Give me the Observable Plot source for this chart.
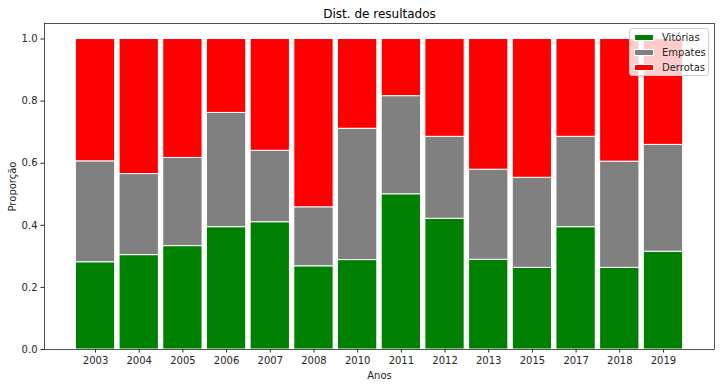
<!DOCTYPE html>
<html>
<head>
<meta charset="utf-8">
<script src="https://cdn.jsdelivr.net/npm/d3@7"></script>
<script src="https://cdn.jsdelivr.net/npm/@observablehq/plot@0.6"></script>
<style>
  html, body { margin: 0; padding: 0; background: #fff; }
  #wrap { position: relative; width: 720px; height: 387px; font-family: "DejaVu Sans", sans-serif; }
  #legend { position: absolute; left: 629px; top: 28px; width: 80px; height: 48px;
    background: rgba(255,255,255,0.8); border: 1px solid #cccccc; border-radius: 3px;
    font-size: 10px; color: #262626; box-sizing: border-box; padding-top: 1px; }
  .row { display: flex; align-items: center; height: 15px; }
  .sw { width: 20px; height: 7px; margin-left: 4px; margin-right: 8px; box-sizing: border-box; border: 1px solid #fff; }
</style>
</head>
<body>
<div id="wrap"><div id="legend"></div></div>
<script>
const anos = ["2003","2004","2005","2006","2007","2008","2010","2011","2012","2013","2015","2017","2018","2019"];
const vitorias = [0.281,0.304,0.333,0.394,0.410,0.268,0.288,0.500,0.421,0.289,0.263,0.394,0.263,0.315];
const empates  = [0.325,0.261,0.284,0.368,0.230,0.190,0.423,0.316,0.264,0.290,0.290,0.291,0.342,0.344];
const derrotas = [0.394,0.435,0.383,0.238,0.360,0.542,0.289,0.184,0.315,0.421,0.447,0.315,0.395,0.341];
const series = ["Vitórias","Empates","Derrotas"];
const cores = ["#008000","#808080","#ff0000"];
const yTicks = [0,0.2,0.4,0.6,0.8,1.0];

const valores = [vitorias, empates, derrotas];
const data = [];
anos.forEach((a, i) => series.forEach((s, j) => data.push({ano: a, serie: s, valor: valores[j][i]})));

const chart = Plot.plot({
  width: 720, height: 387,
  marginLeft: 44, marginRight: 6, marginTop: 23, marginBottom: 38,
  style: {fontFamily: "DejaVu Sans, sans-serif", fontSize: "10px", color: "#262626", background: "#fff"},
  x: {domain: anos, padding: 0.1, insetLeft: 27, insetRight: 27, round: false},
  y: {domain: [0, 1.05]},
  color: {domain: series, range: cores},
  marks: [
    Plot.barY(data, Plot.stackY({x: "ano", y: "valor", fill: "serie", order: null, stroke: "white", strokeWidth: 1})),
    Plot.frame({stroke: "#262626", strokeWidth: 0.8}),
    Plot.axisX({tickSize: 3.5, tickPadding: 3.5, label: "Anos", labelAnchor: "center", labelArrow: "none", labelOffset: 29, fontSize: 10}),
    Plot.axisY({ticks: yTicks, tickFormat: d3.format(".1f"), tickSize: 3.5, tickPadding: 3.5, label: "Proporção", labelAnchor: "center", labelArrow: "none", labelOffset: 36, fontSize: 10}),
    Plot.text(["Dist. de resultados"], {frameAnchor: "top", dy: -14, fontSize: 12, fill: "#000"})
  ]
});
document.getElementById("wrap").prepend(chart);

const leg = document.getElementById("legend");
series.forEach((s, j) => {
  const r = document.createElement("div"); r.className = "row";
  const sw = document.createElement("div"); sw.className = "sw"; sw.style.background = cores[j];
  const t = document.createElement("span"); t.textContent = s;
  r.appendChild(sw); r.appendChild(t); leg.appendChild(r);
});
</script>
</body>
</html>
